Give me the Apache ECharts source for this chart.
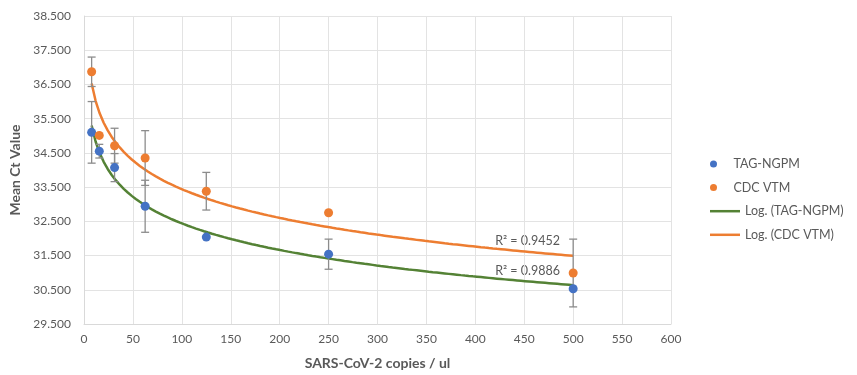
<!DOCTYPE html>
<html>
<head>
<meta charset="utf-8">
<script src="https://cdn.jsdelivr.net/npm/echarts@6/dist/echarts.min.js"></script>
<style>
html,body{margin:0;padding:0;background:#fff;}
#c{width:857px;height:375px;}
</style>
</head>
<body>
<div id="c"></div>
<script>
// ---- data ----
const copies = [7.8125, 15.625, 31.25, 62.5, 125, 250, 500];
const tagValues = [35.10, 34.55, 34.07, 32.94, 32.04, 31.54, 30.53];
const tagErrors = [0.90, 0.20, 0.41, 0.76, 0, 0.44, 0];
const cdcValues = [36.87, 35.01, 34.71, 34.35, 33.38, 32.75, 30.99];
const cdcErrors = [0.43, 0, 0.51, 0.80, 0.55, 0, 0.99];
const seriesNames = ['TAG-NGPM', 'CDC VTM', 'Log. (TAG-NGPM)', 'Log. (CDC VTM)'];
const r2Labels = ['R² = 0.9452', 'R² = 0.9886'];
const xTitle = 'SARS-CoV-2 copies / ul';
const yTitle = 'Mean Ct Value';

// least-squares logarithmic trendline (y = a ln x + b), as Excel does
function logFit(xs, ys) {
  const lx = xs.map(Math.log);
  const n = xs.length;
  const mx = lx.reduce((s, v) => s + v, 0) / n;
  const my = ys.reduce((s, v) => s + v, 0) / n;
  let sxy = 0, sxx = 0;
  for (let i = 0; i < n; i++) { sxy += (lx[i] - mx) * (ys[i] - my); sxx += (lx[i] - mx) * (lx[i] - mx); }
  const a = sxy / sxx, b = my - a * mx;
  const pts = [];
  const x0 = Math.min(...xs), x1 = Math.max(...xs);
  for (let k = 0; k <= 120; k++) {
    const x = x0 + (x1 - x0) * k / 120;
    pts.push([x, a * Math.log(x) + b]);
  }
  return pts;
}
const pairs = (xs, ys) => xs.map((x, i) => [x, ys[i]]);
const errData = (xs, ys, es) => xs.map((x, i) => [x, ys[i] - es[i], ys[i] + es[i], es[i]]).filter(d => d[3] > 0);

function errRender(params, api) {
  const x = api.value(0);
  const lo = api.coord([x, api.value(1)]);
  const hi = api.coord([x, api.value(2)]);
  const cap = 4;
  const style = { stroke: '#8c8c8c', lineWidth: 1.3 };
  return {
    type: 'group',
    children: [
      { type: 'line', shape: { x1: hi[0], y1: hi[1], x2: lo[0], y2: lo[1] }, style },
      { type: 'line', shape: { x1: hi[0] - cap, y1: hi[1], x2: hi[0] + cap, y2: hi[1] }, style },
      { type: 'line', shape: { x1: lo[0] - cap, y1: lo[1], x2: lo[0] + cap, y2: lo[1] }, style }
    ]
  };
}

const FONT = 'Lato';
const legendText = { color: '#595959', fontSize: 12.5, lineHeight: 14, fontFamily: FONT };
const chart = echarts.init(document.getElementById('c'), null, { renderer: 'canvas' });
chart.setOption({
  animation: false,
  backgroundColor: '#ffffff',
  textStyle: { fontFamily: FONT },
  grid: { left: 84, top: 16, width: 587, height: 311, containLabel: false },
  xAxis: {
    type: 'value', min: 0, max: 600, interval: 50,
    name: xTitle, nameLocation: 'middle', nameGap: 32,
    nameTextStyle: { fontFamily: FONT, fontSize: 14, fontWeight: 'bold', color: '#595959' },
    axisLine: { show: true, onZero: false, lineStyle: { color: '#d9d9d9' } },
    axisTick: { show: false },
    axisLabel: { color: '#595959', fontSize: 12, margin: 9, fontFamily: FONT },
    splitLine: { show: true, lineStyle: { color: '#e3e3e3', width: 1 } }
  },
  yAxis: {
    type: 'value', min: 29.5, max: 38.5, interval: 1,
    name: yTitle, nameLocation: 'middle', nameGap: 53, nameRotate: 90,
    nameTextStyle: { fontFamily: FONT, fontSize: 14, fontWeight: 'bold', color: '#595959' },
    axisLine: { show: true, lineStyle: { color: '#d9d9d9' } },
    axisTick: { show: false },
    axisLabel: { color: '#595959', fontSize: 12, margin: 13, fontFamily: FONT, formatter: v => v.toFixed(3) },
    splitLine: { show: true, lineStyle: { color: '#e3e3e3', width: 1 } }
  },
  legend: [
    {
      orient: 'vertical', left: 705, top: 152,
      itemWidth: 30, itemHeight: 7, itemGap: 9.6,
      textStyle: legendText,
      data: [{ name: seriesNames[0], icon: 'circle' }, { name: seriesNames[1], icon: 'circle' }]
    },
    {
      orient: 'vertical', left: 705, top: 199.2,
      itemWidth: 30, itemHeight: 2.5, itemGap: 9.6,
      textStyle: legendText,
      data: [{ name: seriesNames[2], icon: 'rect' }, { name: seriesNames[3], icon: 'rect' }]
    }
  ],
  graphic: [
    { type: 'text', right: 297, top: 234, style: { text: r2Labels[0], fill: '#595959', font: '12.5px ' + FONT } },
    { type: 'text', right: 297, top: 264, style: { text: r2Labels[1], fill: '#595959', font: '12.5px ' + FONT } }
  ],
  series: [
    { name: seriesNames[2], type: 'line', data: logFit(copies, tagValues), showSymbol: false, symbol: 'none',
      smooth: false, lineStyle: { color: '#548235', width: 2.5 }, itemStyle: { color: '#548235' }, z: 2 },
    { name: seriesNames[3], type: 'line', data: logFit(copies, cdcValues), showSymbol: false, symbol: 'none',
      smooth: false, lineStyle: { color: '#ED7D31', width: 2.5 }, itemStyle: { color: '#ED7D31' }, z: 2 },
    { type: 'custom', renderItem: errRender, data: errData(copies, tagValues, tagErrors), encode: { x: 0, y: [1, 2] }, z: 3, silent: true },
    { type: 'custom', renderItem: errRender, data: errData(copies, cdcValues, cdcErrors), encode: { x: 0, y: [1, 2] }, z: 3, silent: true },
    { name: seriesNames[0], type: 'scatter', data: pairs(copies, tagValues), symbolSize: 9, itemStyle: { color: '#4472C4', opacity: 1 }, z: 4 },
    { name: seriesNames[1], type: 'scatter', data: pairs(copies, cdcValues), symbolSize: 9, itemStyle: { color: '#ED7D31', opacity: 1 }, z: 4 }
  ]
});
</script>
</body>
</html>
